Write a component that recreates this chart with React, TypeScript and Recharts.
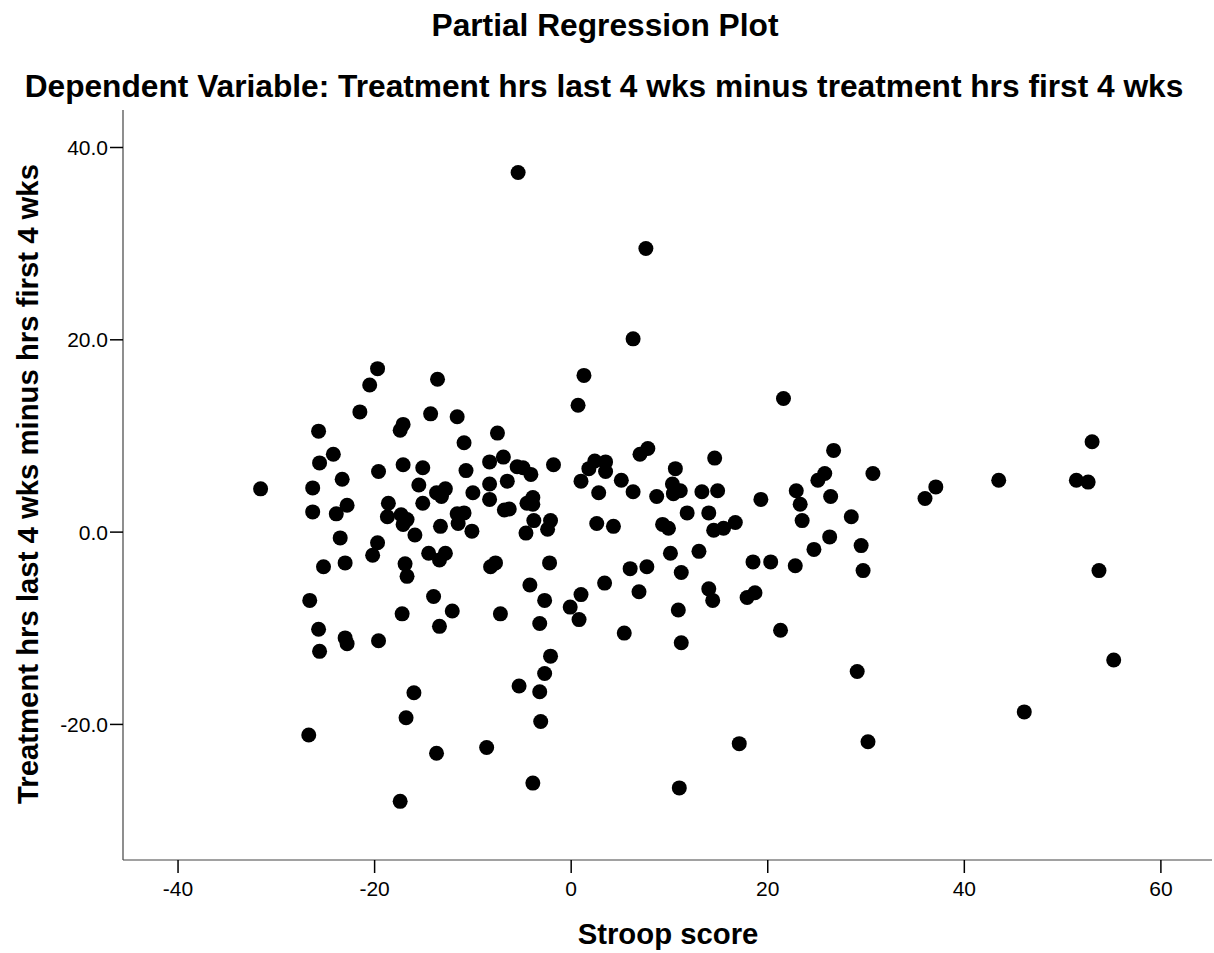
import React from 'react';
import { ScatterChart, Scatter, XAxis, YAxis } from 'recharts';

const stroopScore: number[] = [
  -19.7, -20.5, -21.5, -13.6, -14.3, -11.6, -17.1, -17.4, -25.7, -10.9,
  -24.2, -25.6, -23.3, -17.1, -15.1, -19.6, -10.7, -31.6, -26.3, -15.5,
  -13.7, -12.8, -13.2, -10.0, -15.1, -18.6, -26.3, -23.9, -22.8, -18.7,
  -17.3, -16.7, -17.1, -11.6, -10.9, -11.5, -10.1, -13.3, -15.9, -23.5,
  -19.7, -20.2, -14.5, -12.8, -13.4, -16.9, -16.7, -25.2, -23.0, -26.6,
  -14.0, -12.1, -17.2, -13.4, -25.7, -25.6, -23.0, -22.8, -19.6, -16.0,
  -16.8, -26.7, -13.7, -17.4, -8.6, -5.4, 7.6, 6.3, 1.3, 0.7,
  -7.5, 7.8, 7.0, 14.6, -8.3, -6.9, -5.5, -4.9, -4.1, -1.8,
  2.4, 3.5, 1.8, 3.5, 1.0, 5.1, 10.6, 10.3, 11.1, 10.4,
  13.3, 14.9, 6.3, 2.8, 8.7, -8.3, -6.5, -8.3, -3.9, -4.5,
  -3.9, -6.8, -6.3, 11.8, 14.0, -2.1, -3.8, -2.4, -4.6, 2.6,
  4.3, 9.3, 9.9, 14.5, 10.1, 13.0, -7.7, -8.2, -2.2, 6.0,
  7.7, 11.2, -4.2, 3.4, 6.9, 14.0, 14.4, -2.7, 1.0, -0.1,
  0.8, -7.2, -3.2, 10.9, 5.4, 11.2, -2.1, -2.7, -5.3, -3.2,
  -3.1, -3.9, 11.0, 21.6, 26.7, 30.7, 25.8, 25.1, 22.9, 26.4,
  19.3, 23.3, 15.5, 16.7, 23.5, 28.5, 26.3, 24.7, 29.5, 18.5,
  20.3, 22.8, 29.7, 17.9, 18.7, 21.3, 29.1, 17.1, 30.2, 37.1,
  36.0, 43.5, 53.0, 51.4, 52.6, 53.7, 55.2, 46.1,
];

const treatmentDiff: number[] = [
  17.0, 15.3, 12.5, 15.9, 12.3, 12.0, 11.2, 10.6, 10.5, 9.3,
  8.1, 7.2, 5.5, 7.0, 6.7, 6.3, 6.4, 4.5, 4.6, 4.9,
  4.1, 4.5, 3.7, 4.1, 3.0, 3.0, 2.1, 1.9, 2.8, 1.6,
  1.8, 1.3, 0.8, 1.9, 2.0, 0.9, 0.1, 0.6, -0.3, -0.6,
  -1.1, -2.4, -2.2, -2.2, -2.9, -3.3, -4.6, -3.6, -3.2, -7.1,
  -6.7, -8.2, -8.5, -9.8, -10.1, -12.4, -11.0, -11.6, -11.3, -16.7,
  -19.3, -21.1, -23.0, -28.0, -22.4, 37.4, 29.5, 20.1, 16.3, 13.2,
  10.3, 8.7, 8.1, 7.7, 7.3, 7.8, 6.8, 6.7, 6.0, 7.0,
  7.4, 7.3, 6.6, 6.3, 5.3, 5.4, 6.6, 5.0, 4.3, 4.0,
  4.2, 4.3, 4.2, 4.1, 3.7, 5.0, 5.3, 3.4, 3.6, 3.0,
  2.9, 2.3, 2.4, 2.0, 2.0, 1.2, 1.2, 0.3, -0.1, 0.9,
  0.6, 0.8, 0.4, 0.2, -2.2, -2.0, -3.2, -3.6, -3.2, -3.8,
  -3.6, -4.2, -5.5, -5.3, -6.2, -5.9, -7.1, -7.1, -6.5, -7.8,
  -9.1, -8.5, -9.5, -8.1, -10.5, -11.5, -12.9, -14.7, -16.0, -16.6,
  -19.7, -26.1, -26.6, 13.9, 8.5, 6.1, 6.1, 5.4, 4.3, 3.7,
  3.4, 2.9, 0.4, 1.0, 1.2, 1.6, -0.5, -1.8, -1.4, -3.1,
  -3.1, -3.5, -4.0, -6.8, -6.3, -10.2, -14.5, -22.0, -21.8, 4.7,
  3.5, 5.4, 9.4, 5.4, 5.2, -4.0, -13.3, -18.7,
];

const xTicks: number[] = [-40, -20, 0, 20, 40, 60];
const yTicks: number[] = [-20, 0, 20, 40];

const chartTitle = 'Partial Regression Plot';
const chartSubtitle = 'Dependent Variable: Treatment hrs last 4 wks minus treatment hrs first 4 wks';
const xLabel = 'Stroop score';
const yLabel = 'Treatment hrs last 4 wks minus hrs first 4 wks';

const data = stroopScore.map((x, i) => ({ x, y: treatmentDiff[i] }));

const FONT = '"Liberation Sans", Arial, Helvetica, sans-serif';

const Dot = (props: any) => {
  const { cx, cy } = props;
  if (cx == null || cy == null) return null;
  return <circle cx={cx} cy={cy} r={7.5} fill="#000" />;
};

export default function App() {
  return (
    <div style={{ position: 'absolute', left: 0, top: 0, width: 1214, height: 953, background: '#fff' }}>
      <ScatterChart
        width={1214}
        height={953}
        margin={{ top: 110, right: 2, bottom: 33, left: 63 }}
      >
        <XAxis
          type="number"
          dataKey="x"
          domain={[-45.6, 65.2]}
          ticks={xTicks}
          interval={0}
          height={60}
          tickSize={13}
          tickMargin={8}
          axisLine={{ stroke: '#444', strokeWidth: 1.2 }}
          tickLine={{ stroke: '#000', strokeWidth: 1.5 }}
          tick={{ fontSize: 21, fill: '#000', fontFamily: FONT }}
          allowDataOverflow
        />
        <YAxis
          type="number"
          dataKey="y"
          domain={[-34.1, 43.9]}
          ticks={yTicks}
          interval={0}
          width={60}
          tickSize={13}
          tickMargin={2}
          tickFormatter={(v: number) => v.toFixed(1)}
          axisLine={{ stroke: '#444', strokeWidth: 1.2 }}
          tickLine={{ stroke: '#000', strokeWidth: 1.5 }}
          tick={{ fontSize: 21, fill: '#000', fontFamily: FONT }}
          allowDataOverflow
        />
        <Scatter data={data} shape={<Dot />} isAnimationActive={false} />
      </ScatterChart>
      <svg
        width={1214}
        height={953}
        style={{ position: 'absolute', left: 0, top: 0, pointerEvents: 'none' }}
      >
        <g fontFamily={FONT} fontWeight="bold" fill="#000">
          <text x={605} y={36} textAnchor="middle" fontSize={31.7}>{chartTitle}</text>
          <text x={604} y={97} textAnchor="middle" fontSize={31.7}>{chartSubtitle}</text>
          <text x={668} y={944} textAnchor="middle" fontSize={29.3}>{xLabel}</text>
          <text
            x={0}
            y={0}
            textAnchor="middle"
            fontSize={29.3}
            transform="translate(38,484) rotate(-90)"
          >
            {yLabel}
          </text>
        </g>
      </svg>
    </div>
  );
}
